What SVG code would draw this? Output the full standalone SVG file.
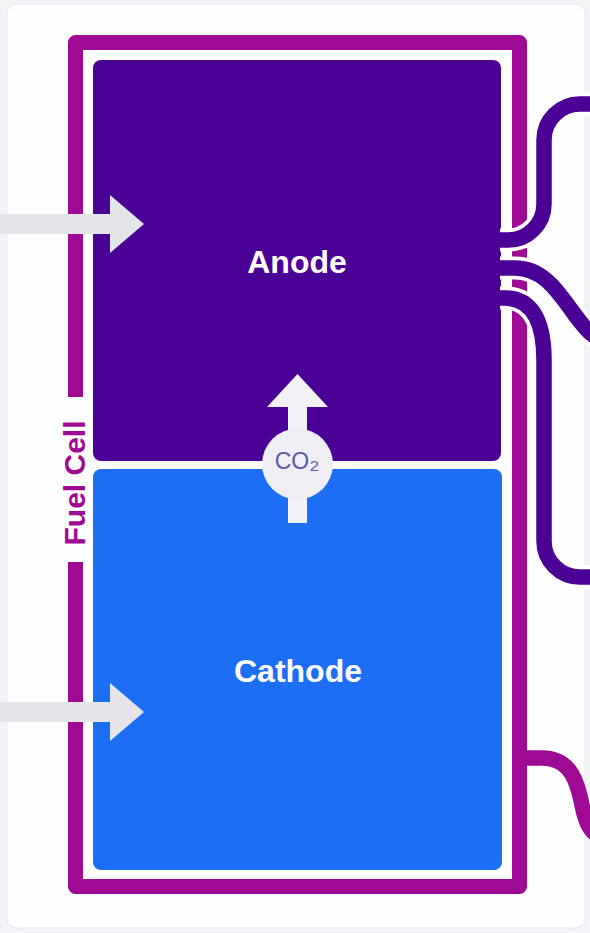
<svg xmlns="http://www.w3.org/2000/svg" width="590" height="933" viewBox="0 0 590 933">
  <style>
    .label { font-family: "Liberation Sans", Arial, sans-serif; font-weight: 700; text-anchor: middle; }
    .wire-halo { fill: none; stroke: #ffffff; stroke-width: 23; }
    .wire-anode { fill: none; stroke: #4b0096; stroke-width: 15.5; }
    .wire-frame { fill: none; stroke: #9e0a94; stroke-width: 15.5; }
    .feed { fill: #e3e5e9; }
  </style>

  <!-- page and card -->
  <rect x="0" y="0" width="590" height="933" fill="#f1f3f6"/>
  <rect x="7" y="4" width="578" height="924" rx="10" fill="#fefefe" stroke="#e7eaef" stroke-width="1"/>

  <!-- fuel cell housing, open on the left side for its caption -->
  <g id="fuel-cell">
    <path d="M75.5 397 V42.5 H519.5 V886.5 H75.5 V562" fill="none" stroke="#9e0a94" stroke-width="15" stroke-linejoin="round"/>
    <text class="label" transform="translate(84.5 483) rotate(-90)" font-size="30" fill="#9e0a94">Fuel Cell</text>
  </g>

  <g id="anode">
    <rect x="93" y="60" width="408" height="401" rx="8" fill="#4b0096"/>
    <text class="label" x="297" y="273" font-size="32" fill="#ffffff">Anode</text>
  </g>

  <g id="cathode">
    <rect x="93" y="469" width="409" height="401" rx="8" fill="#1c6ef4"/>
    <text class="label" x="298" y="682" font-size="32" fill="#ffffff">Cathode</text>
  </g>

  <!-- external circuit and feed lines -->
  <g id="connectors">
    <path class="wire-halo" d="M500 240 H508 A36 36 0 0 0 544 204 V140 A36 36 0 0 1 580 104 H600"/>
    <path class="wire-halo" d="M500 268 H515 C545 268, 560 295, 575 315 S595 340, 615 342"/>
    <path class="wire-halo" d="M500 298 H505 C530 298, 544 318, 544 360 V541 A36 36 0 0 0 580 577 H600"/>
    <path class="wire-anode" d="M500 240 H508 A36 36 0 0 0 544 204 V140 A36 36 0 0 1 580 104 H600"/>
    <path class="wire-anode" d="M500 268 H515 C545 268, 560 295, 575 315 S595 340, 615 342"/>
    <path class="wire-anode" d="M500 298 H505 C530 298, 544 318, 544 360 V541 A36 36 0 0 0 580 577 H600"/>
    <path class="wire-frame" d="M520 758 H542 C572 758, 578 785, 582 805 C586 825, 592 836, 605 838"/>

    <polygon class="feed" points="0,214 110,214 110,195 144,224 110,253 110,234 0,234"/>
    <polygon class="feed" points="0,702 110,702 110,683 144,712 110,741 110,722 0,722"/>
  </g>

  <!-- CO2 transfer from cathode to anode -->
  <g id="co2">
    <rect x="288" y="400" width="19" height="123" fill="#f1f1f6"/>
    <polygon points="267,407 297.5,374 328,407" fill="#f1f1f6"/>
    <circle cx="297.5" cy="464" r="35.5" fill="#eeeef4"/>
    <text x="297" y="469" font-family="'Liberation Sans', 'DejaVu Sans', Arial, sans-serif" font-size="23" text-anchor="middle" fill="#5b5aa8">CO<tspan font-size="26">₂</tspan></text>
  </g>
</svg>
